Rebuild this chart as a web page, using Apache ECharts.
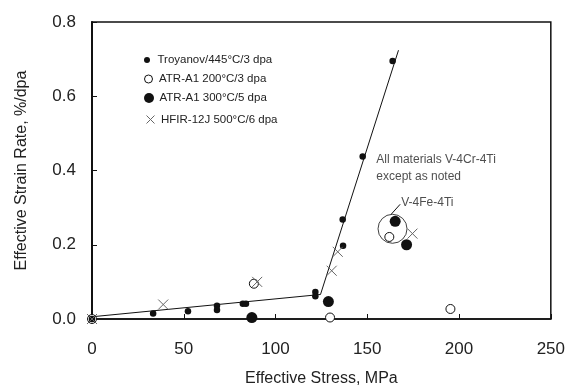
<!DOCTYPE html>
<html><head><meta charset="utf-8">
<script src="https://cdn.jsdelivr.net/npm/echarts@6/dist/echarts.min.js"></script>
<style>html,body{margin:0;padding:0;background:#fff}#c{width:568px;height:392px}</style>
</head><body><div id="c"></div>
<script>
// Data (stress MPa, effective strain rate %/dpa)
const troyanov = [[0,0],[33.3,0.015],[52.3,0.021],[68.1,0.036],[68.1,0.024],[82.2,0.041],[83.9,0.041],[121.7,0.073],[121.7,0.061],[136.6,0.268],[136.8,0.197],[147.5,0.438],[163.8,0.695]];
const atr200 = [[0,0],[88.2,0.095],[129.7,0.004],[162.0,0.221],[195.3,0.027]];
const atr300 = [[87.1,0.004],[128.8,0.047],[165.2,0.263],[171.4,0.200]];
const hfir = [[0,0],[38.8,0.039],[90.0,0.100],[130.6,0.130],[133.9,0.181],[174.6,0.230]];
const fitLine = [[0,0.006],[124.5,0.066],[167.0,0.724]];
const circleMark = [[163.75,0.243]];
const leader = [[163.0,0.282],[167.9,0.309]];
const notes = [
  {value:[154.9,0.428], text:'All materials V-4Cr-4Ti'},
  {value:[154.9,0.383], text:'except as noted'},
  {value:[168.5,0.314], text:'V-4Fe-4Ti'}
];
const xTicks = {min:0, max:250, interval:50};
const yTicks = {min:0, max:0.8, interval:0.2};
const names = ['Troyanov/445°C/3 dpa','ATR-A1 200°C/3 dpa','ATR-A1 300°C/5 dpa','HFIR-12J 500°C/6 dpa'];

const FONT = '"Liberation Sans", Arial, sans-serif';
const xPath = 'path://M0,0L10,10M10,0L0,10';
const chart = echarts.init(document.getElementById('c'), null, {renderer:'canvas'});
const rows = [57,77,97,117];
const hts = [6,8,10,8];
const legends = names.map((n,i)=>({
  data:[{name:n, itemStyle:{borderWidth:1}}], orient:'vertical', left:144, top: rows[i]-hts[i]/2, padding:0,
  itemWidth:11, itemHeight:hts[i], itemGap:5,
  textStyle:{fontFamily:FONT, fontSize:11.5, color:'#222'},
  selectedMode:false
}));
chart.setOption({
  animation:false,
  backgroundColor:'#fff',
  textStyle:{fontFamily:FONT},
  grid:{left:92, right:17, top:22, bottom:69, show:true, borderColor:'#111', borderWidth:1.5, containLabel:false},
  legend: legends,
  xAxis:{type:'value', min:xTicks.min, max:xTicks.max, interval:xTicks.interval,
    name:'Effective Stress, MPa', nameLocation:'middle', nameGap:52,
    nameTextStyle:{fontSize:16, color:'#222', fontFamily:FONT},
    axisLine:{lineStyle:{color:'#111', width:1.5}},
    axisTick:{inside:true, length:5, lineStyle:{color:'#111'}},
    axisLabel:{fontSize:17, color:'#222', margin:22, fontFamily:FONT},
    splitLine:{show:false}},
  yAxis:{type:'value', min:yTicks.min, max:yTicks.max, interval:yTicks.interval,
    name:'Effective Strain Rate, %/dpa', nameLocation:'middle', nameGap:62,
    nameTextStyle:{fontSize:16, color:'#222', fontFamily:FONT},
    axisLine:{lineStyle:{color:'#111', width:2}},
    axisTick:{inside:true, length:5, lineStyle:{color:'#111'}},
    axisLabel:{fontSize:17, color:'#222', margin:16, fontFamily:FONT, formatter:v=>v.toFixed(1)},
    splitLine:{show:false}},
  series:[
    {type:'line', data:fitLine, symbol:'none', silent:true, lineStyle:{color:'#111', width:1}, z:1},
    {type:'line', data:leader, symbol:'none', silent:true, lineStyle:{color:'#111', width:1}, z:1},
    {type:'scatter', data:circleMark, symbol:'circle', symbolSize:29, silent:true, clip:false,
      itemStyle:{color:'rgba(0,0,0,0)', borderColor:'#111', borderWidth:1}, z:1},
    {name:names[1], type:'scatter', data:atr200, symbol:'circle', symbolSize:9, clip:false,
      itemStyle:{color:'#fff', borderColor:'#111', borderWidth:1, opacity:1}, z:3},
    {name:names[2], type:'scatter', data:atr300, symbol:'circle', symbolSize:11, clip:false,
      itemStyle:{color:'#111', opacity:1}, z:4},
    {name:names[0], type:'scatter', data:troyanov, symbol:'circle', symbolSize:6.5, clip:false,
      itemStyle:{color:'#111', opacity:1}, z:5},
    {name:names[3], type:'scatter', data:hfir, symbol:xPath, symbolSize:10, clip:false,
      itemStyle:{color:'none', borderColor:'#666', borderWidth:1, opacity:1}, z:6},
    {type:'scatter', data:notes.map(n=>({value:n.value, label:{formatter:n.text}})), symbolSize:0, silent:true,
      label:{show:true, position:'right', distance:0, fontSize:12, color:'#222', fontFamily:FONT}, z:7}
  ]
});
</script></body></html>
